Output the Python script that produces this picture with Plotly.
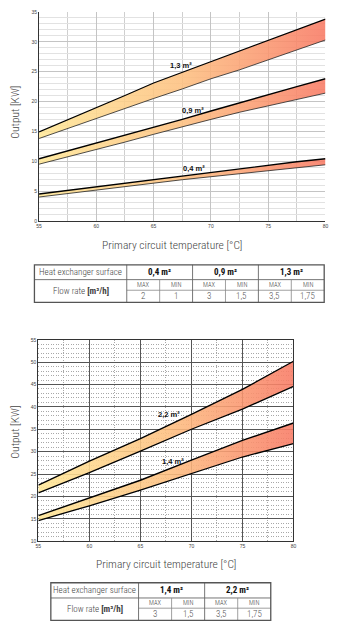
import plotly.graph_objects as go

# ---------------- data ----------------
temps_top = [55, 57.5, 60, 62.5, 65, 67.5, 70, 72.5, 75, 77.5, 80]
s13_max = [14.9, 16.9, 18.9, 21.0, 23.1, 24.9, 26.7, 28.4, 30.2, 32.0, 33.8]
s13_min = [13.8, 15.5, 17.1, 18.8, 20.5, 22.1, 23.8, 25.3, 27.0, 28.7, 30.3]
s09_max = [10.4, 11.7, 13.0, 14.3, 15.6, 17.0, 18.4, 19.8, 21.1, 22.5, 23.8]
s09_min = [9.5, 10.7, 12.0, 13.2, 14.5, 15.8, 17.0, 18.2, 19.3, 20.4, 21.4]
s04_max = [4.5, 5.1, 5.7, 6.3, 6.9, 7.5, 8.2, 8.8, 9.3, 9.9, 10.4]
s04_min = [4.0, 4.6, 5.2, 5.8, 6.4, 6.9, 7.4, 7.9, 8.5, 9.0, 9.4]

temps_bot = [55, 60, 65, 70, 75, 80]
s22_max = [22.5, 27.9, 32.9, 38.3, 43.9, 50.2]
s22_min = [20.8, 25.3, 30.1, 35.0, 39.5, 44.6]
s14_max = [15.7, 19.6, 23.6, 28.1, 32.5, 36.4]
s14_min = [14.6, 17.9, 21.4, 25.1, 28.8, 31.8]

top_labels = ["1,3 m²", "0,9 m²", "0,4 m²"]
top_label_pos = [(67.4, 26.0), (68.4, 18.5), (68.5, 8.8)]
bot_labels = ["2,2 m²", "1,4 m²"]
bot_label_pos = [(67.8, 38.2), (68.2, 27.7)]

t1_surfaces = ["0,4 m²", "0,9 m²", "1,3 m²"]
t1_max = ["2", "3", "3,5"]
t1_min = ["1", "1,5", "1,75"]
t2_surfaces = ["1,4 m²", "2,2 m²"]
t2_max = ["3", "3,5"]
t2_min = ["1,5", "1,75"]

W, H = 338, 630
COND = "Roboto Condensed, Liberation Sans Narrow, DejaVu Sans Condensed, Roboto, sans-serif"
ARIAL = "Liberation Sans, Arial, sans-serif"

grad = [[0.0, "rgba(255,231,150,0.88)"], [0.5, "rgba(253,192,128,0.88)"],
        [1.0, "rgba(248,122,100,0.88)"]]


def px(x):
    return x / W


def py(y):
    return 1 - y / H


fig = go.Figure()


def band(x, lo, hi, xa, ya, wlo, whi, clo):
    fig.add_trace(go.Scatter(x=x, y=lo, mode="lines", xaxis=xa, yaxis=ya,
                             line=dict(color=clo, width=wlo), showlegend=False,
                             hoverinfo="skip"))
    fig.add_trace(go.Scatter(x=x, y=hi, mode="lines", xaxis=xa, yaxis=ya,
                             line=dict(color="#000", width=whi), fill="tonexty",
                             fillgradient=dict(type="horizontal", colorscale=grad),
                             showlegend=False, hoverinfo="skip"))


band(temps_top, s13_min, s13_max, "x", "y", 0.8, 1.2, "#222")
band(temps_top, s09_min, s09_max, "x", "y", 0.8, 1.4, "#222")
band(temps_top, s04_min, s04_max, "x", "y", 0.8, 1.4, "#222")
band(temps_bot, s22_min, s22_max, "x2", "y2", 1.3, 1.4, "#000")
band(temps_bot, s14_min, s14_max, "x2", "y2", 1.3, 1.4, "#000")

tickf = dict(size=5, color="#444", family=ARIAL)

fig.update_layout(
    width=W, height=H, margin=dict(l=0, r=0, t=0, b=0),
    paper_bgcolor="white", plot_bgcolor="white",
    font=dict(family=COND, color="#444", weight=300),
    xaxis=dict(domain=[px(36.7), px(328.3)], range=[55, 80], dtick=5, anchor="y",
               showgrid=True, gridcolor="#c4c4c4", gridwidth=1,
               minor=dict(dtick=2.5, showgrid=True, gridcolor="#cfcfcf", gridwidth=1),
               showline=True, linecolor="#333", linewidth=1, zeroline=False,
               tickfont=tickf, ticks="", fixedrange=True),
    yaxis=dict(domain=[py(220), py(9)], range=[0, 35], dtick=5, anchor="x",
               showgrid=True, gridcolor="#c4c4c4", gridwidth=1,
               minor=dict(dtick=1, showgrid=True, gridcolor="#e2e2e2", gridwidth=1),
               showline=True, linecolor="#333", linewidth=1, zeroline=False,
               tickfont=tickf, ticks="", fixedrange=True),
    xaxis2=dict(domain=[px(36), px(295.7)], range=[55, 80], dtick=5, anchor="y2",
                showgrid=True, gridcolor="#555", gridwidth=1.2,
                minor=dict(dtick=2.5, showgrid=True, gridcolor="#a8a8a8", gridwidth=0.8,
                           griddash="1px,1.5px"),
                showline=True, mirror=True, linecolor="#333", linewidth=1.2,
                zeroline=False, tickfont=tickf, ticks="", fixedrange=True),
    yaxis2=dict(domain=[py(543.3), py(340)], range=[10, 55], dtick=5, anchor="x2",
                showgrid=True, gridcolor="#555", gridwidth=1.2,
                minor=dict(dtick=1, showgrid=True, gridcolor="#a8a8a8", gridwidth=0.8,
                           griddash="1px,1.5px"),
                showline=True, mirror=True, linecolor="#333", linewidth=1.2,
                zeroline=False, tickfont=tickf, ticks="", fixedrange=True),
)

ann = []
shapes = []


def pann(x, y, s, size, color="#444", angle=0, weight=300):
    ann.append(dict(x=px(x), y=py(y), xref="paper", yref="paper", text=s,
                    showarrow=False, xanchor="center", yanchor="middle",
                    textangle=angle, font=dict(size=size, color=color, weight=weight)))


# band labels
for t, (x, y) in zip(top_labels, top_label_pos):
    ann.append(dict(x=x, y=y, xref="x", yref="y", text="<b>%s</b>" % t, showarrow=False,
                    xanchor="center", yanchor="middle",
                    font=dict(size=7.5, family=ARIAL, color="#111", weight=700)))
for t, (x, y) in zip(bot_labels, bot_label_pos):
    ann.append(dict(x=x, y=y, xref="x2", yref="y2", text="<b>%s</b>" % t, showarrow=False,
                    xanchor="center", yanchor="middle",
                    font=dict(size=7.5, family=ARIAL, color="#111", weight=700)))

# axis titles
for cy in (110, 433):
    pann(12, cy, "Output [KW]", 11.5, "#444", -90)
for cx, cy in ((172, 244), (166, 566)):
    pann(cx, cy, "Primary circuit temperature [°C]", 11.5, "#444")


def table(left, first_w, grp_w, top, r1, r2, r3, surfaces, maxs, mins):
    n = len(surfaces)
    right = left + first_w + n * grp_w
    y1 = top + r1
    y2 = y1 + r2
    bot = y2 + r3
    lc = "#666"

    def line(x0, y0, x1, y1_, w=0.9, c=lc):
        shapes.append(dict(type="line", xref="paper", yref="paper", x0=px(x0), y0=py(y0),
                           x1=px(x1), y1=py(y1_), line=dict(color=c, width=w)))

    line(left, y1, right, y1)  # under header
    line(left + first_w, y2, right, y2, 0.8, "#888")
    line(left + first_w, top, left + first_w, bot)
    for i in range(n):
        gx = left + first_w + i * grp_w
        if i > 0:
            line(gx, top, gx, bot)
        line(gx + grp_w / 2, y1, gx + grp_w / 2, bot, 0.8, "#888")
        pann(gx + grp_w / 2, top + r1 / 2, "<b>%s</b>" % surfaces[i], 9, "#111", weight=700)
        pann(gx + grp_w / 4, y1 + r2 / 2, "MAX", 6.5, "#444")
        pann(gx + 3 * grp_w / 4, y1 + r2 / 2, "MIN", 6.5, "#444")
        pann(gx + grp_w / 4, y2 + r3 / 2, maxs[i], 9, "#555")
        pann(gx + 3 * grp_w / 4, y2 + r3 / 2, mins[i], 9, "#555")
    shapes.append(dict(type="rect", xref="paper", yref="paper", x0=px(left), y0=py(top),
                       x1=px(right), y1=py(bot), line=dict(color="#555", width=1.3)))
    pann(left + first_w / 2, top + r1 / 2, "Heat exchanger surface", 9, "#444")
    pann(left + first_w / 2, y1 + (r2 + r3) / 2, "Flow rate <b>[m³/h]</b>", 9, "#444")


table(32, 94, 67, 264.3, 15, 10.7, 12.3, t1_surfaces, t1_max, t1_min)
table(48.7, 89.3, 67.3, 585.3, 15.4, 10.3, 12.3, t2_surfaces, t2_max, t2_min)

fig.update_layout(annotations=ann, shapes=shapes)
fig.write_html("out.html")
